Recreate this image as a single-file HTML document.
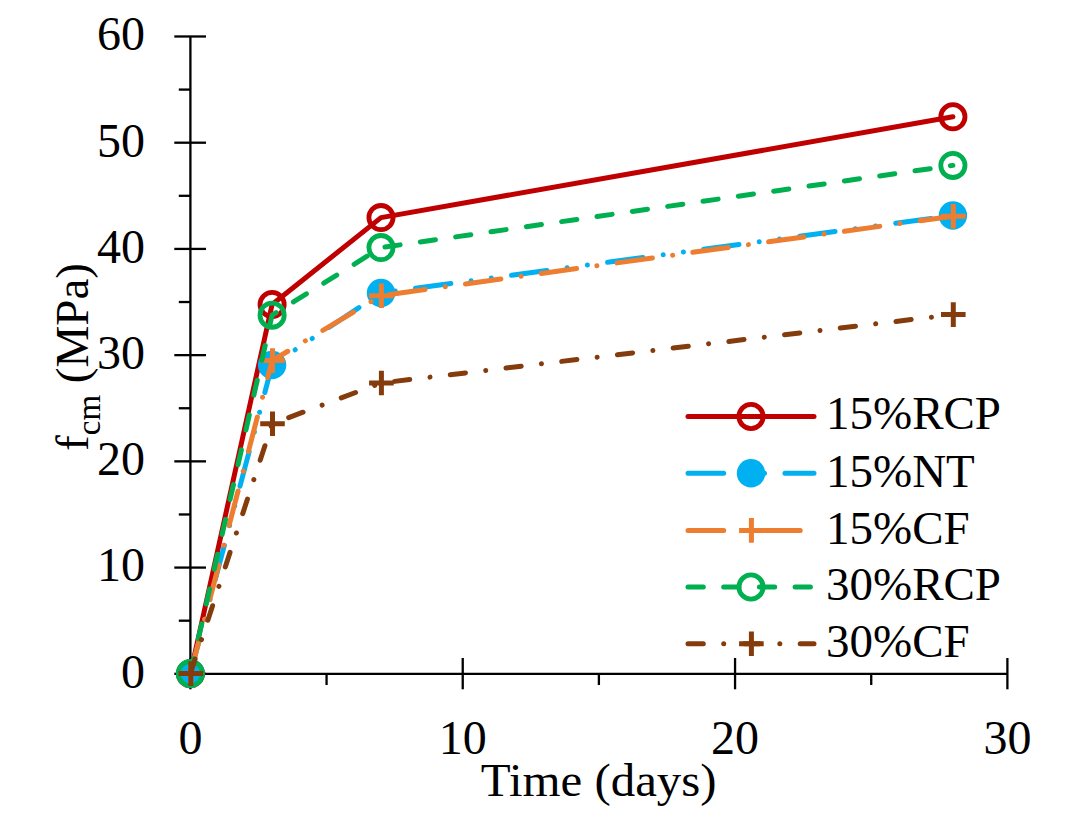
<!DOCTYPE html>
<html><head><meta charset="utf-8"><style>
html,body{margin:0;padding:0;background:#fff;}
svg{display:block;}
</style></head><body>
<svg width="1080" height="835" viewBox="0 0 1080 835">
<rect width="1080" height="835" fill="#fff"/>
<g stroke="#000" stroke-width="2.3" fill="none"><path d="M190.4 36.5V673.8H1007.4" /><path d="M174.3 673.80H206" /><path d="M174.3 567.58H206" /><path d="M174.3 461.36H206" /><path d="M174.3 355.14H206" /><path d="M174.3 248.92H206" /><path d="M174.3 142.70H206" /><path d="M174.3 36.48H206" /><path d="M178.8 620.69H190.4" /><path d="M178.8 514.47H190.4" /><path d="M178.8 408.25H190.4" /><path d="M178.8 302.03H190.4" /><path d="M178.8 195.81H190.4" /><path d="M178.8 89.59H190.4" /><path d="M190.40 658V689.3" /><path d="M462.73 658V689.3" /><path d="M735.06 658V689.3" /><path d="M1007.39 658V689.3" /><path d="M326.56 673.8V685" /><path d="M598.89 673.8V685" /><path d="M871.23 673.8V685" /></g>
<path d="M190.40 673.80 L272.10 304.50 L381.00 217.60 L952.90 116.80" fill="none" stroke="#C00000" stroke-width="5.0" stroke-linecap="round" stroke-linejoin="round"/>
<circle cx="190.40" cy="673.80" r="12.1" fill="none" stroke="#C00000" stroke-width="4.8"/>
<circle cx="272.10" cy="304.50" r="12.1" fill="none" stroke="#C00000" stroke-width="4.8"/>
<circle cx="381.00" cy="217.60" r="12.1" fill="none" stroke="#C00000" stroke-width="4.8"/>
<circle cx="952.90" cy="116.80" r="12.1" fill="none" stroke="#C00000" stroke-width="4.8"/>
<path d="M190.40 673.60 L272.10 365.00 L381.00 293.00 L952.90 215.50" fill="none" stroke="#00B0F0" stroke-width="5.0" stroke-linecap="round" stroke-linejoin="round" stroke-dasharray="35.7 20.4 0.01 20.4 0.01 20.4"/>
<circle cx="190.40" cy="673.60" r="14.2" fill="#00B0F0"/>
<circle cx="272.10" cy="365.00" r="14.2" fill="#00B0F0"/>
<circle cx="381.00" cy="293.00" r="14.2" fill="#00B0F0"/>
<circle cx="952.90" cy="215.50" r="14.2" fill="#00B0F0"/>
<path d="M190.40 673.60 L272.10 360.60 L381.00 295.70 L952.90 216.20" fill="none" stroke="#ED7D31" stroke-width="5.0" stroke-linecap="round" stroke-linejoin="round" stroke-dasharray="35.7 20.4 0.01 20.4"/>
<path d="M178.50 673.60H203.10M190.80 661.30V685.90" stroke="#ED7D31" stroke-width="5" fill="none"/>
<path d="M260.20 360.60H284.80M272.50 348.30V372.90" stroke="#ED7D31" stroke-width="5" fill="none"/>
<path d="M369.10 295.70H393.70M381.40 283.40V308.00" stroke="#ED7D31" stroke-width="5" fill="none"/>
<path d="M941.00 216.20H965.60M953.30 203.90V228.50" stroke="#ED7D31" stroke-width="5" fill="none"/>
<path d="M190.40 673.60 L272.10 315.15 L381.00 247.60 L952.90 165.40" fill="none" stroke="#00B050" stroke-width="5.0" stroke-linecap="round" stroke-linejoin="round" stroke-dasharray="15.3 20.4"/>
<circle cx="190.40" cy="673.60" r="12.1" fill="none" stroke="#00B050" stroke-width="4.8"/>
<circle cx="272.10" cy="315.15" r="12.1" fill="none" stroke="#00B050" stroke-width="4.8"/>
<circle cx="381.00" cy="247.60" r="12.1" fill="none" stroke="#00B050" stroke-width="4.8"/>
<circle cx="952.90" cy="165.40" r="12.1" fill="none" stroke="#00B050" stroke-width="4.8"/>
<path d="M190.40 673.60 L272.10 423.80 L381.00 383.00 L952.90 314.60" fill="none" stroke="#843C0C" stroke-width="5.0" stroke-linecap="round" stroke-linejoin="round" stroke-dasharray="15.3 20.4 0.01 20.4"/>
<path d="M178.50 673.60H203.10M190.80 661.30V685.90" stroke="#843C0C" stroke-width="5" fill="none"/>
<path d="M260.20 423.80H284.80M272.50 411.50V436.10" stroke="#843C0C" stroke-width="5" fill="none"/>
<path d="M369.10 383.00H393.70M381.40 370.70V395.30" stroke="#843C0C" stroke-width="5" fill="none"/>
<path d="M941.00 314.60H965.60M953.30 302.30V326.90" stroke="#843C0C" stroke-width="5" fill="none"/>
<path d="M688 416.5H814" fill="none" stroke="#C00000" stroke-width="5.0" stroke-linecap="round"/>
<circle cx="751.00" cy="416.50" r="12.1" fill="none" stroke="#C00000" stroke-width="4.8"/>
<path d="M688 473.2H814" fill="none" stroke="#00B0F0" stroke-width="5.0" stroke-linecap="round" stroke-dasharray="35.7 20.4 0.01 20.4 0.01 20.4"/>
<circle cx="751.00" cy="473.20" r="14.2" fill="#00B0F0"/>
<path d="M688 530.4H814" fill="none" stroke="#ED7D31" stroke-width="5.0" stroke-linecap="round" stroke-dasharray="35.7 20.4 0.01 20.4"/>
<path d="M739.10 530.40H763.70M751.40 518.10V542.70" stroke="#ED7D31" stroke-width="5" fill="none"/>
<path d="M688 587.0H814" fill="none" stroke="#00B050" stroke-width="5.0" stroke-linecap="round" stroke-dasharray="15.3 20.4"/>
<circle cx="751.00" cy="587.00" r="12.1" fill="none" stroke="#00B050" stroke-width="4.8"/>
<path d="M688 643.8H814" fill="none" stroke="#843C0C" stroke-width="5.0" stroke-linecap="round" stroke-dasharray="15.3 20.4 0.01 20.4"/>
<path d="M739.10 643.80H763.70M751.40 631.50V656.10" stroke="#843C0C" stroke-width="5" fill="none"/>
<g font-family="Liberation Serif" font-size="47" fill="#000"><text x="145" y="687.70" text-anchor="end" font-size="48">0</text><text x="145" y="581.48" text-anchor="end" font-size="48">10</text><text x="145" y="475.26" text-anchor="end" font-size="48">20</text><text x="145" y="369.04" text-anchor="end" font-size="48">30</text><text x="145" y="262.82" text-anchor="end" font-size="48">40</text><text x="145" y="156.60" text-anchor="end" font-size="48">50</text><text x="145" y="50.38" text-anchor="end" font-size="48">60</text><text x="190.40" y="754" text-anchor="middle" font-size="48">0</text><text x="462.73" y="754" text-anchor="middle" font-size="48">10</text><text x="735.06" y="754" text-anchor="middle" font-size="48">20</text><text x="1007.39" y="754" text-anchor="middle" font-size="48">30</text><text transform="translate(598.7 796) scale(1.04 1)" text-anchor="middle">Time (days)</text><text x="826" y="429.4">15%RCP</text><text x="826" y="486.6">15%NT</text><text x="826" y="543.6">15%CF</text><text x="826" y="600.2">30%RCP</text><text x="826" y="656.8">30%CF</text><text transform="translate(88 357) rotate(-90)" text-anchor="middle">f<tspan font-size="33" dy="11.5">cm</tspan><tspan dy="-11.5"> (MPa)</tspan></text></g>
</svg>
</body></html>
